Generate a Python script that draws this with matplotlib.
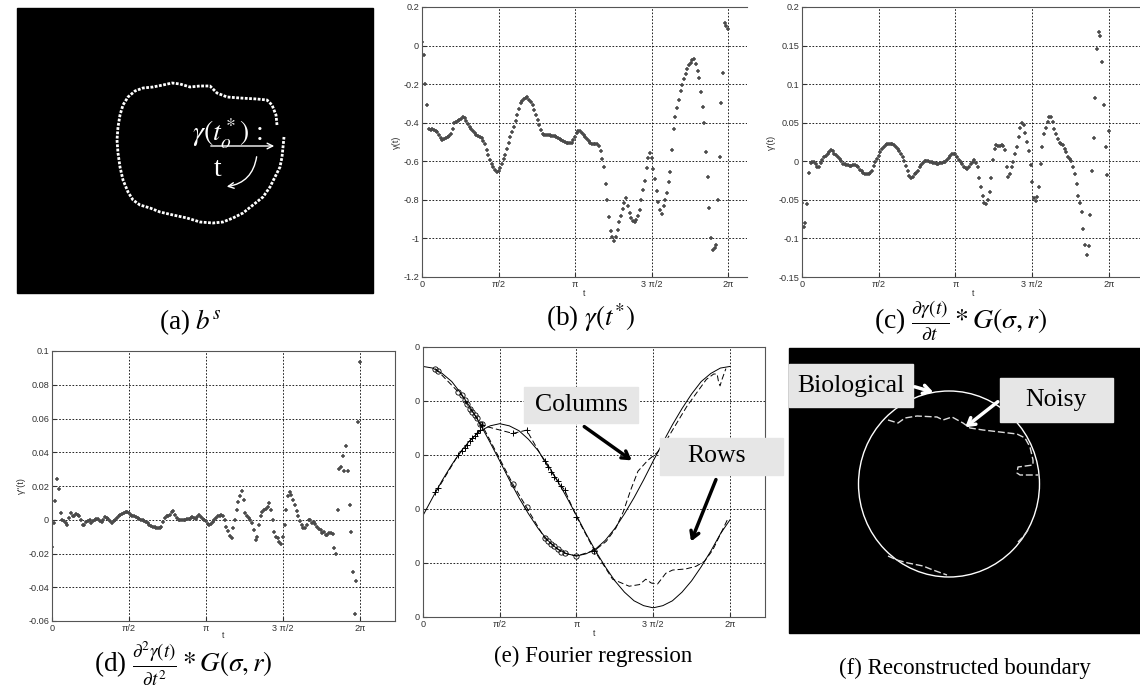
import numpy as np
import matplotlib
matplotlib.use("Agg")
import matplotlib.pyplot as plt
from matplotlib.patches import Rectangle, Ellipse

plt.rcParams['mathtext.fontset'] = 'stix'
plt.rcParams['font.family'] = ['Liberation Sans', 'DejaVu Sans']

W, H = 1140, 687

# (b) gamma(t) samples, (c) first derivative, (d) second derivative
gamma_b = [0.02, -0.05, -0.20, -0.31, -0.43, -0.44, -0.435, -0.44, -0.445, -0.45,
           -0.465, -0.48, -0.49, -0.485, -0.48, -0.475, -0.47, -0.46, -0.43, -0.40,
           -0.395, -0.39, -0.385, -0.38, -0.37, -0.375, -0.39, -0.405, -0.42, -0.435,
           -0.445, -0.455, -0.465, -0.47, -0.475, -0.48, -0.495, -0.51, -0.54, -0.57,
           -0.595, -0.615, -0.63, -0.645, -0.655, -0.65, -0.635, -0.615, -0.59, -0.565,
           -0.535, -0.505, -0.475, -0.45, -0.42, -0.39, -0.36, -0.33, -0.30, -0.285,
           -0.275, -0.27, -0.265, -0.28, -0.295, -0.31, -0.335, -0.36, -0.385, -0.41,
           -0.44, -0.46, -0.465, -0.465, -0.465, -0.465, -0.467, -0.468, -0.47, -0.475,
           -0.48, -0.485, -0.49, -0.495, -0.50, -0.503, -0.505, -0.507, -0.505, -0.49,
           -0.475, -0.455, -0.443, -0.445, -0.455, -0.465, -0.475, -0.485, -0.495, -0.505,
           -0.51, -0.51, -0.51, -0.512, -0.52, -0.545, -0.59, -0.63, -0.72, -0.80,
           -0.89, -0.96, -0.99, -1.015, -0.99, -0.955, -0.915, -0.885, -0.845, -0.815,
           -0.79, -0.83, -0.87, -0.895, -0.91, -0.913, -0.905, -0.885, -0.855, -0.80,
           -0.75, -0.70, -0.635, -0.585, -0.555, -0.585, -0.64, -0.69, -0.755, -0.81,
           -0.855, -0.875, -0.83, -0.80, -0.765, -0.705, -0.655, -0.54, -0.43, -0.37,
           -0.325, -0.28, -0.235, -0.205, -0.172, -0.145, -0.12, -0.10, -0.088, -0.075,
           -0.068, -0.093, -0.13, -0.17, -0.24, -0.32, -0.40, -0.55, -0.68, -0.84,
           -1.0, -1.06, -1.05, -1.035, -0.80, -0.58, -0.30, -0.14, 0.115, 0.10,
           0.085]

dgamma_c = [-0.054, -0.085, -0.08, -0.055, -0.015, -0.002, -0.001, -0.001, -0.003, -0.008,
            -0.008, -0.002, 0.002, 0.005, 0.007, 0.009, 0.012, 0.014, 0.013, 0.010,
            0.008, 0.006, 0.003, 0.0, -0.003, -0.004, -0.005, -0.005, -0.006, -0.006,
            -0.005, -0.005, -0.006, -0.008, -0.011, -0.013, -0.015, -0.016, -0.017, -0.017,
            -0.015, -0.012, -0.006, -0.001, 0.003, 0.007, 0.012, 0.016, 0.019, 0.021,
            0.022, 0.023, 0.022, 0.022, 0.021, 0.019, 0.016, 0.013, 0.009, 0.005,
            0.0, -0.006, -0.013, -0.019, -0.022, -0.020, -0.017, -0.015, -0.012, -0.008,
            -0.005, -0.002, 0.0, 0.0, 0.0, -0.001, -0.001, -0.002, -0.002, -0.003,
            -0.003, -0.002, -0.002, -0.001, -0.001, 0.002, 0.004, 0.007, 0.009, 0.010,
            0.009, 0.006, 0.002, -0.001, -0.004, -0.007, -0.009, -0.010, -0.007, -0.004,
            -0.001, 0.002, -0.002, -0.008, -0.022, -0.033, -0.045, -0.054, -0.056, -0.050,
            -0.040, -0.022, 0.002, 0.016, 0.021, 0.020, 0.020, 0.021, 0.020, 0.014,
            -0.008, -0.020, -0.016, -0.008, -0.001, 0.009, 0.018, 0.032, 0.043, 0.050,
            0.047, 0.037, 0.025, 0.013, -0.005, -0.027, -0.048, -0.052, -0.046, -0.033,
            -0.004, 0.018, 0.035, 0.043, 0.051, 0.057, 0.057, 0.051, 0.042, 0.035,
            0.029, 0.024, 0.022, 0.021, 0.016, 0.012, 0.006, 0.003, 0.0, -0.007,
            -0.017, -0.030, -0.045, -0.054, -0.066, -0.088, -0.108, -0.122, -0.110, -0.070,
            -0.013, 0.030, 0.082, 0.145, 0.167, 0.162, 0.129, 0.073, 0.018, -0.018,
            0.039]

ddgamma_d = [-0.016, -0.002, 0.011, 0.024, 0.018, 0.004, 0.0, -0.001, -0.002, -0.003,
             0.001, 0.004, 0.002, 0.002, 0.0035, 0.003, 0.002, 0.0, -0.003, -0.003,
             -0.0015, -0.001, 0.0, -0.002, -0.001, 0.0, 0.0005, 0.0005, -0.001, -0.0015,
             0.0, 0.0015, 0.001, 0.0005, -0.001, -0.002, -0.001, 0.0, 0.001, 0.002,
             0.003, 0.0035, 0.004, 0.0045, 0.0045, 0.004, 0.003, 0.0025, 0.002, 0.0015,
             0.001, 0.0005, 0.0, 0.0, -0.001, -0.0015, -0.002, -0.003, -0.0035, -0.004,
             -0.0045, -0.005, -0.005, -0.005, -0.004, -0.0015, 0.001, 0.002, 0.0025, 0.003,
             0.0045, 0.005, 0.003, 0.001, 0.0, 0.0, 0.0, 0.0, 0.0, 0.0005,
             0.0005, 0.001, 0.0015, 0.001, 0.0005, 0.0015, 0.003, 0.0015, 0.0005, 0.0,
             -0.001, -0.0025, -0.003, -0.0025, -0.0015, 0.0, 0.001, 0.002, 0.0025, 0.003,
             0.0025, 0.0, -0.004, -0.0065, -0.0095, -0.011, -0.005, 0.0, 0.0055, 0.0105,
             0.014, 0.017, 0.012, 0.004, 0.002, 0.001, 0.0, -0.002, -0.006, -0.012,
             -0.010, -0.003, 0.0025, 0.0045, 0.0055, 0.0065, 0.0075, 0.010, 0.006, 0.0,
             -0.007, -0.010, -0.011, -0.013, -0.0145, -0.010, -0.003, 0.006, 0.014, 0.0165,
             0.0145, 0.0115, 0.0085, 0.005, 0.0025, -0.0005, -0.003, -0.005, -0.005, -0.003,
             0.0, 0.0, -0.002, -0.0015, -0.0025, -0.004, -0.0055, -0.006, -0.008, -0.0075,
             -0.009, -0.009, -0.008, -0.008, -0.0085, -0.017, -0.020, 0.006, 0.030, 0.031,
             0.0375, 0.029, 0.044, 0.029, 0.0085, -0.007, -0.031, -0.056, -0.036, 0.058,
             0.0935]

t_samples = np.linspace(0, 2 * np.pi, len(gamma_b))

# (e) Fourier regression: fitted curves sampled every pi/16
col_fit = [4.64, 4.61, 4.51, 4.36, 4.13, 3.86, 3.56, 3.23, 2.89, 2.54, 2.21, 1.91, 1.64,
           1.42, 1.26, 1.17, 1.13, 1.17, 1.26, 1.42, 1.64, 1.91, 2.21, 2.54, 2.89, 3.23,
           3.56, 3.86, 4.13, 4.36, 4.51, 4.61, 4.64]
row_fit = [1.88, 2.21, 2.53, 2.82, 3.08, 3.29, 3.45, 3.54, 3.58, 3.54, 3.45, 3.29, 3.08,
           2.82, 2.53, 2.21, 1.88, 1.54, 1.22, 0.93, 0.67, 0.46, 0.30, 0.21, 0.17, 0.21,
           0.30, 0.46, 0.67, 0.93, 1.22, 1.54, 1.80]
t_fit = np.linspace(0, 2 * np.pi, len(col_fit))

# (e) observed samples (markers)
t_marks = [0.25, 0.31, 0.72, 0.79, 0.86, 0.90, 0.96, 1.01, 1.06, 1.11, 1.16, 1.20,
           1.84, 2.12, 2.49, 2.56, 2.63, 2.69, 2.76, 2.83, 2.90, 3.14, 3.51]
col_marks = [4.60, 4.55, 4.17, 4.11, 4.01, 3.94, 3.86, 3.80, 3.74, 3.68, 3.58, 3.57,
             2.46, 2.03, 1.46, 1.41, 1.35, 1.31, 1.26, 1.21, 1.18, 1.13, 1.23]
row_marks = [2.32, 2.38, 3.00, 3.07, 3.13, 3.19, 3.26, 3.31, 3.36, 3.41, 3.46, 3.55,
             3.40, 3.46, 2.88, 2.78, 2.69, 2.60, 2.51, 2.43, 2.35, 1.86, 1.23]

# (e) noisy data tails (dashed)
col_dash_t = [3.51, 3.75, 3.95, 4.10, 4.25, 4.40, 4.60, 4.80, 5.00, 5.20, 5.40, 5.60,
              5.80, 5.95, 6.02, 6.05, 6.08, 6.12, 6.20]
col_dash_u = [1.23, 1.40, 1.65, 1.95, 2.35, 2.70, 2.90, 3.05, 3.30, 3.60, 3.90, 4.15,
              4.40, 4.50, 4.50, 4.35, 4.28, 4.40, 4.60]
row_dash_t = [3.51, 3.88, 4.22, 4.43, 4.56, 4.67, 4.80, 4.97, 5.11, 5.38, 5.59, 5.76,
              5.93, 6.23]
row_dash_u = [1.23, 0.70, 0.57, 0.60, 0.70, 0.63, 0.61, 0.81, 0.87, 0.89, 0.94, 1.03,
              1.24, 1.80]

# (a) sampled boundary (pixel coords inside the panel)
cont_x = [277, 276, 272, 267, 257, 240, 227, 217, 210, 200, 190, 180, 172, 163, 153,
          143, 135, 128, 123, 120, 118, 117, 118, 120, 123, 128, 133, 140, 150, 160,
          173, 187, 200, 213, 223, 233, 243, 253, 263, 270, 275, 280, 282, 283, 284]
cont_y = [125, 115, 105, 100, 99, 98, 97, 93, 86, 86, 87, 84, 83, 85, 87, 88, 91, 97,
          105, 115, 127, 140, 153, 167, 180, 192, 200, 205, 208, 212, 215, 218, 222,
          223, 222, 218, 213, 205, 197, 187, 177, 167, 157, 147, 137]

# (f) noisy boundary pieces
noisy_top_x = [888, 898, 905, 917, 937, 943, 952, 963, 970, 983, 1000, 1017, 1025,
               1030, 1033, 1033, 1018, 1017, 1020, 1038]
noisy_top_y = [420, 423, 418, 416, 417, 420, 417, 423, 428, 430, 432, 434, 438, 447,
               460, 465, 467, 473, 475, 475]
noisy_bot_x = [888, 897, 908, 923, 933, 947]
noisy_bot_y = [556, 560, 563, 566, 570, 575]
noisy_rt_x = [1028, 1023, 1018]
noisy_rt_y = [530, 537, 542]

fig = plt.figure(figsize=(W / 100, H / 100), dpi=100)


def px_axes(x0, y0, x1, y1):
    return fig.add_axes([x0 / W, 1 - y1 / H, (x1 - x0) / W, (y1 - y0) / H])


def style(ax, yticks, ylabels, ylim, xmax=7.0, xpad=0.5):
    ax.set_xlim(0, xmax)
    ax.set_ylim(ylim)
    ax.set_xticks([0, np.pi / 2, np.pi, 3 * np.pi / 2, 2 * np.pi])
    ax.set_xticklabels(['0', 'π/2', 'π', '3 π/2', '2π'])
    ax.set_yticks(yticks)
    ax.set_yticklabels(ylabels)
    ax.grid(True, color='k', linestyle=(0, (2, 2)), linewidth=0.6)
    ax.tick_params(direction='in', length=3, labelsize=6.6, colors='#333333', pad=2)
    for s in ax.spines.values():
        s.set_color('#555555')
        s.set_linewidth(0.8)
    ax.set_xlabel('t', fontsize=6.3, labelpad=xpad, color='#333333')


mk = dict(marker='+', linestyle='none', markersize=3.4, markeredgewidth=1.1, color='#4a4a4a')

ax_b = px_axes(422, 7, 747, 277)
ax_b.plot(t_samples, gamma_b, **mk)
style(ax_b, [0.2, 0, -0.2, -0.4, -0.6, -0.8, -1, -1.2],
      ['0.2', '0', '-0.2', '-0.4', '-0.6', '-0.8', '-1', '-1.2'], (-1.2, 0.2), xmax=6.67)
ax_b.spines['right'].set_visible(False)
ax_b.set_ylabel('γ(t)', fontsize=6.6, labelpad=2, color='#333333')

ax_c = px_axes(802, 7, 1144, 277)
ax_c.plot(t_samples, dgamma_c, **mk)
style(ax_c, [0.2, 0.15, 0.1, 0.05, 0, -0.05, -0.1, -0.15],
      ['0.2', '0.15', '0.1', '0.05', '0', '-0.05', '-0.1', '-0.15'], (-0.15, 0.2))
ax_c.set_ylabel("γ'(t)", fontsize=6.6, labelpad=2, color='#333333')

ax_d = px_axes(52, 351, 395, 621)
ax_d.plot(t_samples, ddgamma_d, **mk)
style(ax_d, [0.1, 0.08, 0.06, 0.04, 0.02, 0, -0.02, -0.04, -0.06],
      ['0.1', '0.08', '0.06', '0.04', '0.02', '0', '-0.02', '-0.04', '-0.06'], (-0.06, 0.1),
      xpad=-1)
ax_d.set_ylabel("γ''(t)", fontsize=6.6, labelpad=2, color='#333333')

ax_e = px_axes(423, 347, 765, 617)
ax_e.plot(t_fit, col_fit, color='k', lw=0.7)
ax_e.plot(t_fit, row_fit, color='k', lw=0.7)
ax_e.plot(t_marks + col_dash_t[1:], col_marks + col_dash_u[1:], color='k', lw=0.7,
          linestyle=(0, (6, 3)))
ax_e.plot(t_marks + row_dash_t[1:], row_marks + row_dash_u[1:], color='k', lw=0.7,
          linestyle=(0, (6, 3)))
ax_e.plot(t_marks, col_marks, 'o', ms=3.8, mfc='none', mec='k', mew=0.6)
ax_e.plot(t_marks, row_marks, '+', ms=5, mec='k', mew=0.7)
style(ax_e, [0, 1, 2, 3, 4, 5], ['0'] * 6, (0, 5))

# overlay in pixel coordinates
ov = fig.add_axes([0, 0, 1, 1])
ov.set_xlim(0, W)
ov.set_ylim(H, 0)
ov.axis('off')
ov.patch.set_alpha(0)

serif = 'Liberation Serif'

# panel (a)
ov.add_patch(Rectangle((17, 8), 356, 285, color='black'))
ov.plot(cont_x, cont_y, color='white', lw=2.0, linestyle=(0, (1.0, 0.55)),
        dash_capstyle='butt')
ov.text(192, 142, r'$\gamma(t_o^*)$ :', color='white', fontsize=20, family=serif,
        va='baseline')
ov.annotate('', xy=(277, 146), xytext=(208, 146),
            arrowprops=dict(arrowstyle='->', color='white', lw=1.0))
ov.text(218, 170, 't', color='white', fontsize=20, family=serif, ha='center', va='center')
ov.annotate('', xy=(224, 187), xytext=(257, 154),
            arrowprops=dict(arrowstyle='->', color='white', lw=1.0,
                            connectionstyle='arc3,rad=-0.4'))

# panel (f)
ov.add_patch(Rectangle((789, 348), 351, 285, color='black'))
ov.add_patch(Ellipse((949, 484), 181, 186, fill=False, ec='white', lw=1.0))
for xs, ys in [(noisy_top_x, noisy_top_y), (noisy_bot_x, noisy_bot_y),
               (noisy_rt_x, noisy_rt_y)]:
    ov.plot(xs, ys, color='#dddddd', lw=1.0, linestyle=(0, (5, 2)))
ov.add_patch(Rectangle((789, 364), 124, 43, color='#e6e6e6'))
ov.text(851, 386, 'Biological', fontsize=18.5, family=serif, ha='center', va='center')
ov.add_patch(Rectangle((1000, 378), 113, 44, color='#e6e6e6'))
ov.text(1056, 400, 'Noisy', fontsize=18.5, family=serif, ha='center', va='center')
ov.annotate('', xy=(936, 393), xytext=(912, 386),
            arrowprops=dict(arrowstyle='->,head_length=0.5,head_width=0.3', color='white', lw=2.5))
ov.annotate('', xy=(963, 429), xytext=(1000, 400),
            arrowprops=dict(arrowstyle='->,head_length=0.5,head_width=0.3', color='white', lw=2.5))

# panel (e) annotations
ov.add_patch(Rectangle((524, 387), 114, 36, color='#e6e6e6'))
ov.text(581, 405, 'Columns', fontsize=18.5, family=serif, ha='center', va='center')
ov.add_patch(Rectangle((660, 438), 123, 37, color='#e6e6e6'))
ov.text(717, 456, 'Rows', fontsize=18.5, family=serif, ha='center', va='center')
ov.annotate('', xy=(634, 462), xytext=(582, 425),
            arrowprops=dict(arrowstyle='->,head_length=0.5,head_width=0.3', color='k', lw=2.5))
ov.annotate('', xy=(690, 544), xytext=(717, 477),
            arrowprops=dict(arrowstyle='->,head_length=0.5,head_width=0.3', color='k', lw=2.5))

# captions
cap = dict(family=serif, ha='center', va='center')
ov.text(190, 322, r'(a) $b^s$', fontsize=19.5, **cap)
ov.text(590, 318, r'(b) $\gamma(t^{*})$', fontsize=19.5, **cap)
ov.text(961, 321, r'(c) $\frac{\partial\gamma(t)}{\partial t} * G(\sigma, r)$', fontsize=20, **cap)
ov.text(183, 664, r'(d) $\frac{\partial^2\gamma(t)}{\partial t^2} * G(\sigma, r)$', fontsize=19.5, **cap)
ov.text(593, 656, '(e) Fourier regression', fontsize=16.5, **cap)
ov.text(965, 668, '(f) Reconstructed boundary', fontsize=16.5, **cap)

fig.savefig('out.png', dpi=100)
